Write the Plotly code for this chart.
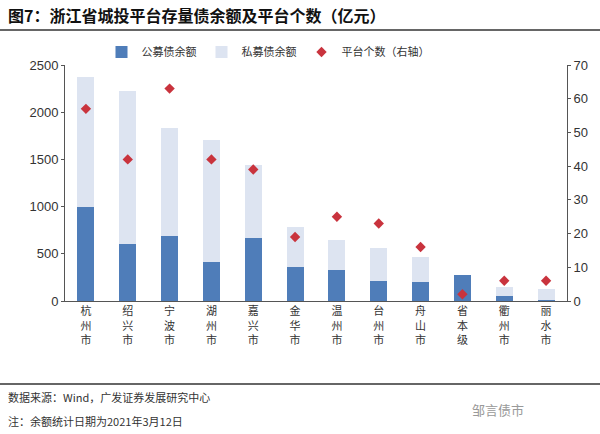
import plotly.graph_objects as go

cities = ["杭州市", "绍兴市", "宁波市", "湖州市", "嘉兴市", "金华市", "温州市", "台州市", "舟山市", "省本级", "衢州市", "丽水市"]
public_bonds = [1000, 604, 692, 409, 664, 364, 328, 215, 205, 275, 57, 10]
total_bonds = [2370, 2228, 1830, 1705, 1440, 787, 646, 565, 463, 275, 152, 127]
private_bonds = [t - p for t, p in zip(total_bonds, public_bonds)]
platform_count = [57, 42, 63, 42, 39, 19, 25, 23, 16, 2, 6, 6]

left_ticks = [0, 500, 1000, 1500, 2000, 2500]
right_ticks = [0, 10, 20, 30, 40, 50, 60, 70]

labels = ["<br>".join(list(c)) for c in cities]

fig = go.Figure()
fig.add_trace(go.Bar(x=labels, y=public_bonds, name="公募债余额", marker_color="#4F7DB9", marker_line_width=0))
fig.add_trace(go.Bar(x=labels, y=private_bonds, name="私募债余额", marker_color="#DDE4F1", marker_line_width=0))
fig.add_trace(go.Scatter(x=labels, y=platform_count, name="平台个数（右轴）", mode="markers",
                         marker=dict(symbol="diamond", size=8, color="#C9333D"), yaxis="y2"))

PL, PR, PT, PB = 65, 567, 65, 301
W, H = 600, 434
def px(x):
    return (x - PL) / (PR - PL)
def py(y):
    return (PB - y) / (PB - PT)

fig.update_layout(
    width=W, height=H,
    margin=dict(l=PL, r=W - PR, t=PT, b=H - PB, autoexpand=False),
    barmode="stack", bargap=0.59,
    plot_bgcolor="white", paper_bgcolor="white",
    font=dict(family="Liberation Sans, Arial, Noto Sans CJK SC", size=12, color="#333"),
    showlegend=True,
    legend=dict(orientation="h", x=268 / W, xanchor="center", xref="container",
                yref="container", y=1 - 52 / H, yanchor="middle",
                traceorder="normal",
                font=dict(family="Noto Sans CJK SC", size=11, color="#333"),
                itemwidth=30, tracegroupgap=0, bgcolor="rgba(0,0,0,0)"),
    xaxis=dict(showline=True, linecolor="#555", linewidth=1, ticks="", showgrid=False, automargin=False,
               range=[-0.5, len(cities) - 0.5], autorange=False,
               tickfont=dict(family="Noto Sans CJK SC", size=11, color="#333"), tickangle=0),
    yaxis=dict(range=[0, 2500], tickvals=left_ticks, showgrid=False, zeroline=False, automargin=False,
               showline=True, linecolor="#555", linewidth=1, ticks="outside", ticklen=3,
               tickcolor="#555", tickfont=dict(size=13, color="#333")),
    yaxis2=dict(range=[0, 70], tickvals=right_ticks, overlaying="y", side="right", automargin=False,
                showgrid=False, zeroline=False, showline=True, linecolor="#555", linewidth=1,
                ticks="outside", ticklen=3, tickcolor="#555", tickfont=dict(size=13, color="#333")),
    shapes=[
        dict(type="line", xref="paper", yref="paper", x0=px(0), x1=px(600), y0=py(30), y1=py(30),
             line=dict(color="#666", width=2)),
        dict(type="line", xref="paper", yref="paper", x0=px(0), x1=px(600), y0=py(384), y1=py(384),
             line=dict(color="#666", width=2)),
    ],
    annotations=[
        dict(text="<b>图7：浙江省城投平台存量债余额及平台个数（亿元）</b>", xref="paper", yref="paper",
             x=px(6), y=py(15), xanchor="left", yanchor="middle", showarrow=False,
             font=dict(family="Noto Sans CJK SC", size=16, color="#111")),
        dict(text="数据来源：Wind，广发证券发展研究中心", xref="paper", yref="paper",
             x=px(6), y=py(397), xanchor="left", yanchor="middle", showarrow=False,
             font=dict(family="Noto Sans CJK SC", size=11, color="#333")),
        dict(text="注：余额统计日期为2021年3月12日", xref="paper", yref="paper",
             x=px(6), y=py(421), xanchor="left", yanchor="middle", showarrow=False,
             font=dict(family="Noto Sans CJK SC", size=11, color="#333")),
        dict(text="邹言债市", xref="paper", yref="paper",
             x=px(470), y=py(409), xanchor="left", yanchor="middle", showarrow=False,
             font=dict(family="Noto Sans CJK SC", size=13, color="#999")),
    ],
)

fig.write_html("out.html", config={"displayModeBar": False},
               post_script="document.body.style.margin='0';document.body.style.overflow='hidden';")
